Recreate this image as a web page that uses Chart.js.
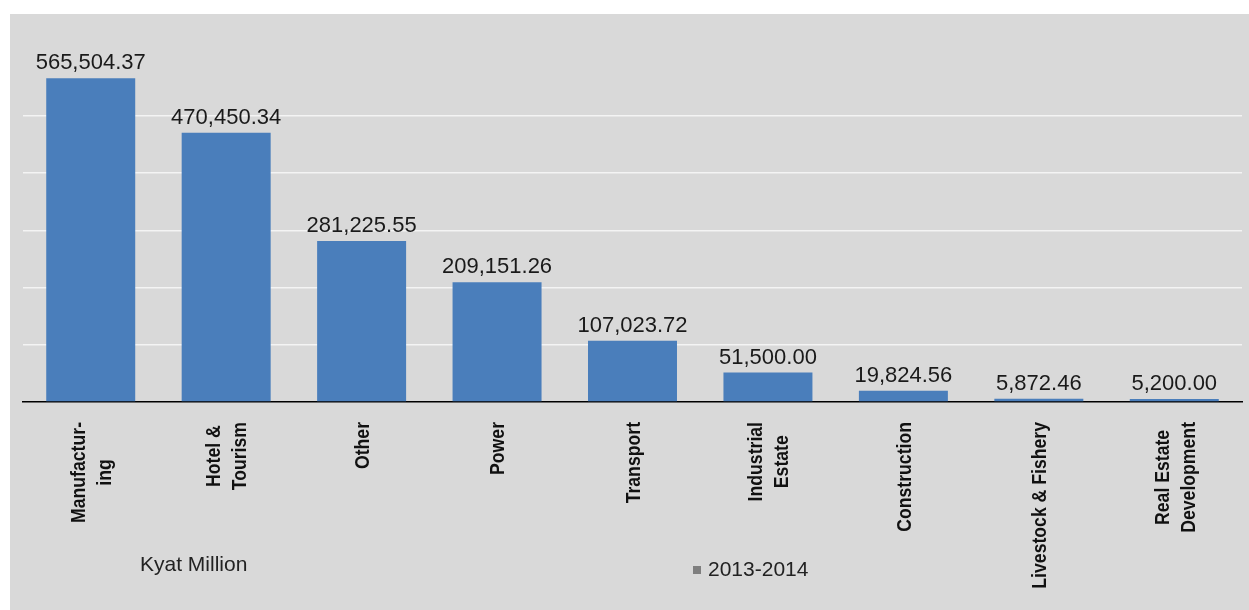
<!DOCTYPE html>
<html>
<head>
<meta charset="utf-8">
<script src="https://cdn.jsdelivr.net/npm/chart.js@4/dist/chart.umd.min.js"></script>
<style>
  html, body { margin: 0; padding: 0; background: #ffffff; }
  #wrap { position: relative; width: 1249px; height: 610px; }
</style>
</head>
<body>
<div id="wrap"><canvas id="c" width="1249" height="610"></canvas></div>
<script>
const categories = [
  ["Manufactur-", "ing"],
  ["Hotel &", "Tourism"],
  "Other",
  "Power",
  "Transport",
  ["Industrial", "Estate"],
  "Construction",
  "Livestock & Fishery",
  ["Real Estate", "Development"]
];
const seriesName = "2013-2014";
const values2013_2014 = [565504.37, 470450.34, 281225.55, 209151.26, 107023.72, 51500.00, 19824.56, 5872.46, 5200.00];
const unitLabel = "Kyat Million";
const yTickStep = 100000;
const yMax = 600000;

const bgPlugin = {
  id: 'bg',
  beforeDraw(chart) {
    const ctx = chart.ctx;
    ctx.save();
    ctx.fillStyle = '#ffffff';
    ctx.fillRect(0, 0, chart.width, chart.height);
    ctx.fillStyle = '#d9d9d9';
    ctx.fillRect(10, 14, chart.width - 10, chart.height - 14);
    ctx.restore();
  }
};

const valueLabelPlugin = {
  id: 'valueLabels',
  afterDatasetsDraw(chart) {
    const ctx = chart.ctx;
    const meta = chart.getDatasetMeta(0);
    ctx.save();
    ctx.font = '22px "Liberation Sans", Arial, sans-serif';
    ctx.fillStyle = '#1a1a1a';
    ctx.textAlign = 'center';
    ctx.textBaseline = 'alphabetic';
    meta.data.forEach((bar, i) => {
      const v = chart.data.datasets[0].data[i];
      const txt = v.toLocaleString('en-US', { minimumFractionDigits: 2, maximumFractionDigits: 2 });
      ctx.fillText(txt, bar.x, bar.y - 9);
    });
    ctx.restore();
  }
};

// Category labels: rotated, bold, condensed, with centred lines
const categoryLabelPlugin = {
  id: 'categoryLabels',
  afterDraw(chart) {
    const ctx = chart.ctx;
    const xs = chart.scales.x;
    const squeeze = 0.84;
    const lineH = 26;
    const top = xs.top + 20;
    ctx.save();
    ctx.font = 'bold 21px "Liberation Sans", Arial, sans-serif';
    ctx.fillStyle = '#111111';
    ctx.textAlign = 'center';
    ctx.textBaseline = 'middle';
    chart.data.labels.forEach((lab, i) => {
      const lines = Array.isArray(lab) ? lab : [lab];
      const x = xs.getPixelForTick(i);
      const maxW = Math.max(...lines.map(l => ctx.measureText(l).width)) * squeeze;
      const cy = top + maxW / 2;
      lines.forEach((line, k) => {
        const off = (k - (lines.length - 1) / 2) * lineH;
        ctx.save();
        ctx.translate(x + off + 1.5, cy);
        ctx.rotate(-Math.PI / 2);
        ctx.scale(squeeze, 1);
        ctx.fillText(line, 0, 0);
        ctx.restore();
      });
    });
    ctx.restore();
  }
};

const extraTextPlugin = {
  id: 'extraText',
  afterDraw(chart) {
    const ctx = chart.ctx;
    ctx.save();
    ctx.font = '21px "Liberation Sans", Arial, sans-serif';
    ctx.fillStyle = '#222222';
    ctx.textBaseline = 'middle';
    ctx.textAlign = 'left';
    ctx.fillText(unitLabel, 140, 565);
    ctx.fillStyle = '#7f7f7f';
    ctx.fillRect(693, 566, 8, 8);
    ctx.fillStyle = '#222222';
    ctx.fillText(seriesName, 708, 570);
    ctx.restore();
  }
};

new Chart(document.getElementById('c'), {
  type: 'bar',
  data: {
    labels: categories,
    datasets: [{
      label: seriesName,
      data: values2013_2014,
      backgroundColor: '#4a7ebb',
      borderWidth: 0,
      categoryPercentage: 1.0,
      barPercentage: 0.657
    }]
  },
  options: {
    responsive: false,
    animation: false,
    layout: { padding: { top: 58.5, right: 7, left: 0, bottom: 0 } },
    plugins: {
      legend: { display: false },
      tooltip: { enabled: false },
      title: { display: false }
    },
    scales: {
      x: {
        grid: { display: false, drawTicks: false },
        border: { display: true, color: '#000000', width: 1.5 },
        ticks: { display: false },
        afterFit(scale) { scale.height = 208; }
      },
      y: {
        min: 0,
        max: yMax,
        ticks: { display: false, stepSize: yTickStep },
        border: { display: false },
        grid: {
          drawTicks: false,
          lineWidth: 1.5,
          color: (ctx) => (ctx.tick && (ctx.tick.value === 0 || ctx.tick.value === yMax)) ? 'rgba(0,0,0,0)' : '#f4f4f4'
        },
        afterFit(scale) { scale.width = 23; }
      }
    }
  },
  plugins: [bgPlugin, valueLabelPlugin, categoryLabelPlugin, extraTextPlugin]
});
</script>
</body>
</html>
